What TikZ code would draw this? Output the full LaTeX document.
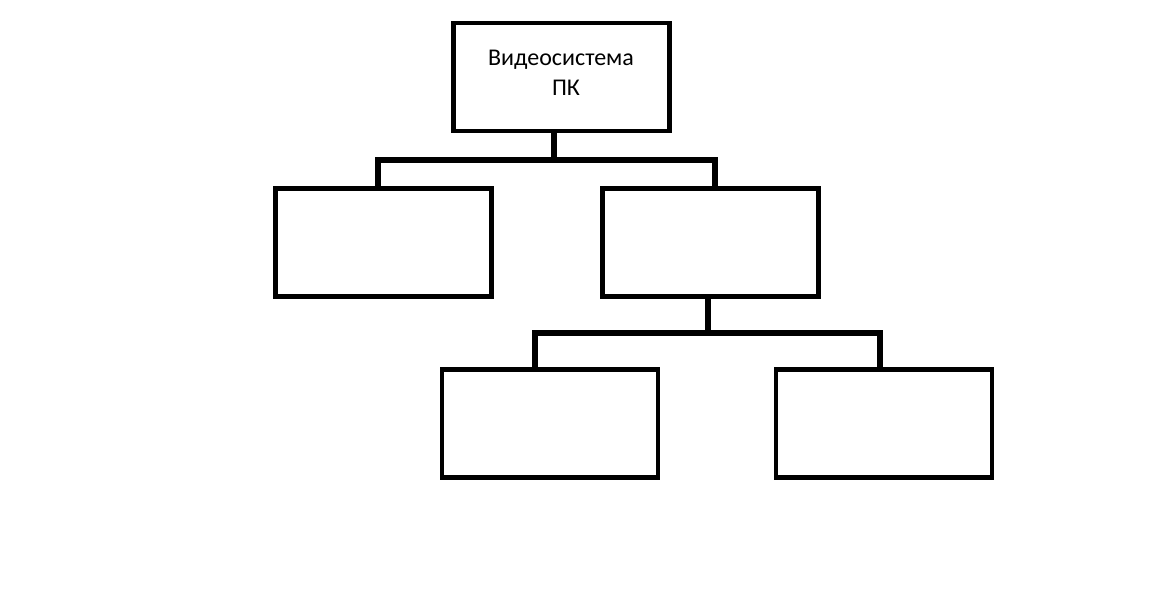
\documentclass[tikz,border=0pt]{standalone}
\usepackage{fontspec}
\setmainfont{Carlito}
\begin{document}
\begin{tikzpicture}[x=0.75pt,y=-0.75pt,
  box/.style={draw=black,line width=3.6pt,minimum width=162pt,minimum height=81pt,inner sep=0pt,fill=white},
  conn/.style={draw=black,line width=3.8pt,line cap=rect},
  lbl/.style={font=\fontsize{18}{21}\selectfont,inner sep=0pt,anchor=base}]
\fill[white] (0,0) rectangle (1152,604);
\useasboundingbox (0,0) rectangle (1152,604);
% boxes
\node[box] (top) at (561.5,77) {};
\node[lbl] (t1) at (561,65) {Видеосистема};
\node[lbl] (t2) at (566,95) {ПК};
\node[box] (l) at (383.5,242.5) {};
\node[box] (r) at (710.5,242.5) {};
\node[box] (bl) at (550,423.5) {};
\node[box] (br) at (884,423.5) {};
% junction coordinates
\coordinate (j1) at (554,160);
\coordinate (j1l) at (378,160);
\coordinate (j1r) at (715,160);
\coordinate (j2) at (708,333);
\coordinate (j2l) at (535,333);
\coordinate (j2r) at (880,333);
% connectors
\draw[conn] (j1 |- top.south) -- (j1);
\draw[conn] (j1l) -- (j1r);
\draw[conn] (j1l) -- (j1l |- l.north);
\draw[conn] (j1r) -- (j1r |- r.north);
\draw[conn] (j2 |- r.south) -- (j2);
\draw[conn] (j2l) -- (j2r);
\draw[conn] (j2l) -- (j2l |- bl.north);
\draw[conn] (j2r) -- (j2r |- br.north);
\end{tikzpicture}
\end{document}
